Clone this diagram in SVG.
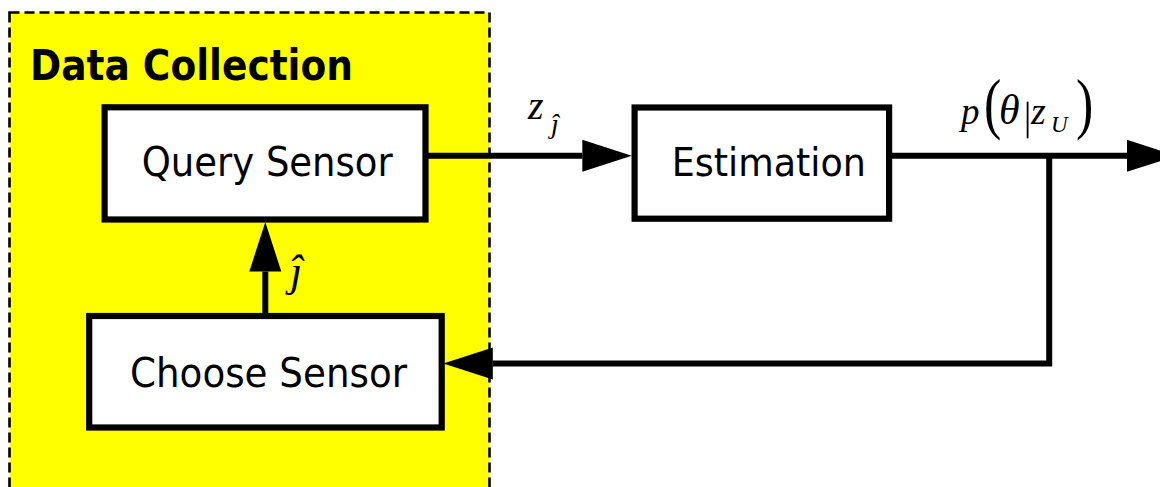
<svg xmlns="http://www.w3.org/2000/svg" width="1160" height="487" viewBox="0 0 1160 487">
  <style>
    .box { fill: #ffffff; stroke: #000000; stroke-width: 6.2; }
    .label { font-family: "DejaVu Sans", Verdana, sans-serif; fill: #000000; }
    .math { font-family: "Liberation Serif", "Times New Roman", serif; font-style: italic; fill: #000000; }
    .upright { font-family: "Liberation Serif", "Times New Roman", serif; fill: #000000; }
    .wire { fill: none; stroke: #000000; stroke-width: 6; stroke-linejoin: miter; }
  </style>
  <defs>
    <marker id="head" markerUnits="userSpaceOnUse" markerWidth="50" markerHeight="34" refX="0" refY="17" orient="auto" overflow="visible">
      <path d="M0,1 L49.5,17 L0,33 z" fill="#000000"/>
    </marker>
  </defs>

  <!-- data collection region -->
  <g id="data-collection">
    <rect x="9.5" y="12.5" width="480" height="500" fill="#ffff00" stroke="#000000" stroke-width="2.6" stroke-dasharray="10 5"/>
    <text x="30" y="80" class="label" font-size="42" font-weight="bold" textLength="323" lengthAdjust="spacingAndGlyphs">Data Collection</text>
  </g>

  <!-- connectors -->
  <g id="connectors">
    <line class="wire" x1="425" y1="155.8" x2="582.3" y2="155.8" marker-end="url(#head)"/>
    <line class="wire" x1="889" y1="155.8" x2="1127" y2="155.8" marker-end="url(#head)"/>
    <line class="wire" x1="265.3" y1="316" x2="265.3" y2="271.5" marker-end="url(#head)"/>
    <polyline class="wire" points="1049.2,155.8 1049.2,363.6 492.8,363.6" marker-end="url(#head)"/>
  </g>

  <!-- blocks -->
  <g id="query-sensor">
    <rect class="box" x="104.6" y="107.3" width="320.9" height="112.2"/>
    <text x="141.7" y="176" class="label" font-size="40" textLength="251" lengthAdjust="spacingAndGlyphs">Query Sensor</text>
  </g>
  <g id="estimation">
    <rect class="box" x="634.6" y="107.5" width="254.5" height="111.2"/>
    <text x="671.8" y="176" class="label" font-size="39" textLength="194" lengthAdjust="spacingAndGlyphs">Estimation</text>
  </g>
  <g id="choose-sensor">
    <rect class="box" x="89.2" y="316" width="352.5" height="111.5"/>
    <text x="130" y="387.3" class="label" font-size="41" textLength="277" lengthAdjust="spacingAndGlyphs">Choose Sensor</text>
  </g>

  <!-- signal labels -->
  <g id="label-z-jhat">
    <text x="528" y="119" class="math" font-size="40">z</text>
    <text x="551" y="133" class="math" font-size="28">ĵ</text>
  </g>
  <g id="label-jhat">
    <text x="290" y="286" class="math" font-size="44">ĵ</text>
  </g>
  <g id="label-posterior">
    <text x="961" y="124" class="math" font-size="37">p</text>
    <text transform="translate(984,126) scale(1,1.3)" class="upright" font-size="52">(</text>
    <text x="999" y="124" class="math" font-size="42">θ</text>
    <line x1="1027.6" y1="101.7" x2="1027.6" y2="138.3" stroke="#000000" stroke-width="1.8"/>
    <text x="1031" y="124" class="math" font-size="38">z</text>
    <text x="1051" y="132" class="math" font-size="23">U</text>
    <text transform="translate(1076,126) scale(1,1.3)" class="upright" font-size="52">)</text>
  </g>
</svg>
